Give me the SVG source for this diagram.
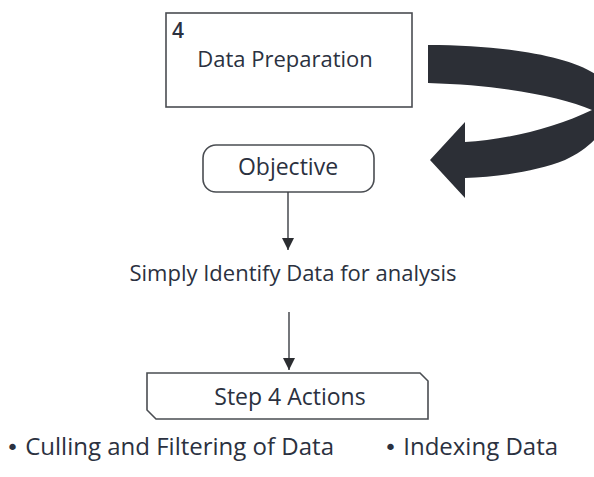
<svg xmlns="http://www.w3.org/2000/svg" width="594" height="477" viewBox="0 0 594 477">
<defs>
<style>
.t{font-family:"Open Sans","Liberation Sans",sans-serif;font-size:22px;fill:#2b3140}
.m{font-size:23px}
.b{font-size:24px}
.dot{font-family:"DejaVu Sans",sans-serif;font-size:22px}
.box{fill:#fff;stroke:#4a4d52;stroke-width:1.6}
.ln{stroke:#3a3d42;stroke-width:1.4;fill:none}
</style>
<marker id="ah" markerWidth="12" markerHeight="12" viewBox="0 0 12 12" refX="12" refY="6" orient="auto" markerUnits="userSpaceOnUse">
<path d="M0,0 L12,6 L0,12 Z" fill="#2b2d31"/>
</marker>
</defs>
<rect width="594" height="477" fill="#fff"/>
<g id="data-preparation">
<rect class="box" x="166" y="13" width="246" height="94"/>
<text class="t" x="172" y="38" style="font-size:21px;font-weight:600">4</text>
<text class="t" x="285" y="67" text-anchor="middle">Data Preparation</text>
</g>
<g id="loop-arrow">
<path d="M428,45 C510,45 580,58 603,80 C620,100 612,138 565,160 C535,172 495,177 465,178 L465,198 L430,160 L465,122 L465,142 C505,140 555,128 592,110 C560,96 500,85 428,83 Z" fill="#2c2f36"/>
</g>
<g id="objective">
<rect class="box" x="203" y="145" width="171" height="47" rx="13"/>
<text class="t m" x="288" y="175" text-anchor="middle">Objective</text>
</g>
<g id="simply">
<text class="t" x="293" y="281" text-anchor="middle">Simply Identify Data for analysis</text>
</g>
<g id="step4">
<path class="box" d="M147,373 L420,373 L428,381 L428,419 L156,419 L147,410 Z"/>
<text class="t m" x="290" y="405" text-anchor="middle">Step 4 Actions</text>
</g>
<g id="bullets">
<text class="t b" x="6" y="455"><tspan class="dot">•</tspan> Culling and Filtering of Data</text>
<text class="t b" x="384" y="455"><tspan class="dot">•</tspan> Indexing Data</text>
</g>
<g id="connectors">
<line class="ln" x1="288" y1="192" x2="288" y2="250" marker-end="url(#ah)"/>
<line class="ln" x1="289" y1="312" x2="289" y2="370" marker-end="url(#ah)"/>
</g>
</svg>
